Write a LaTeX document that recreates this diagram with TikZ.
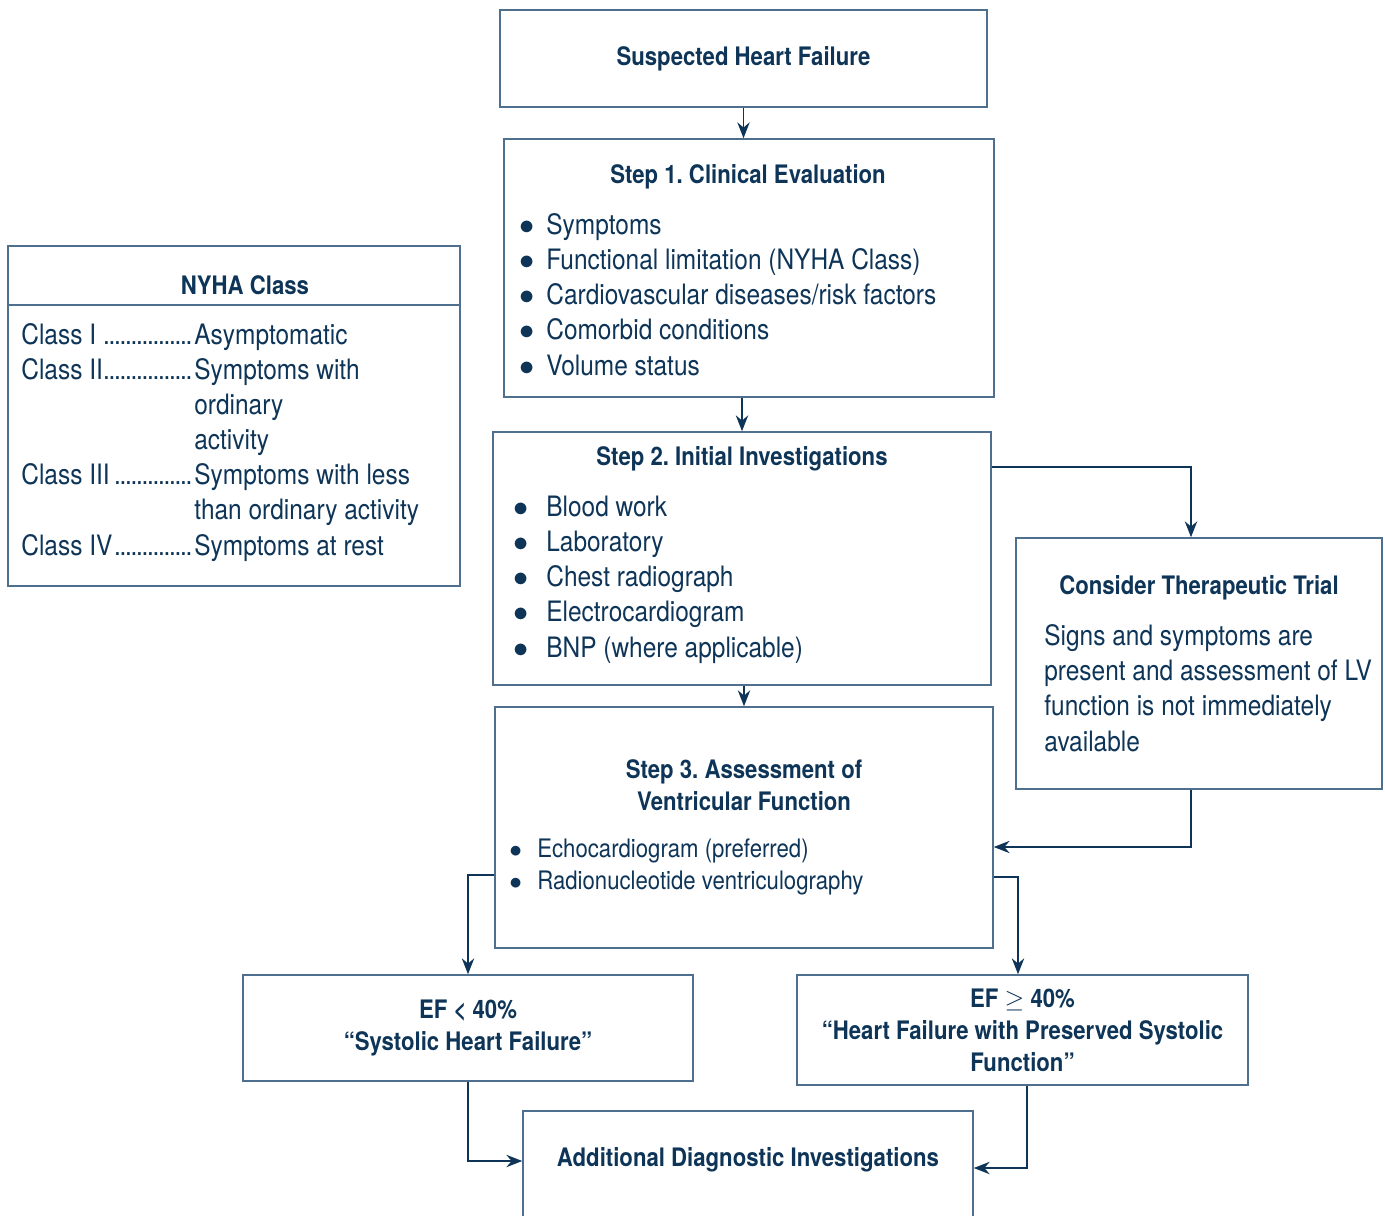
\documentclass[tikz,border=0pt]{standalone}
\usepackage{fontspec}
\setmainfont{TeX Gyre Heros}[FakeStretch=0.87]
\usetikzlibrary{arrows.meta}
\definecolor{navy}{HTML}{0E3558}
\definecolor{boxblue}{HTML}{4F6F8E}
\newcommand\dotsfill{\leaders\hbox to 0.11cm{\hss.\hss}\hfill}
\newcommand\bul[1]{\makebox[#1][l]{$\bullet$}}
\frenchspacing
\begin{document}
\begin{tikzpicture}[x=0.02cm,y=-0.02cm,
  box/.style={draw=boxblue,line width=0.9pt,inner sep=0pt},
  title/.style={font=\fontsize{14.5}{18.2}\selectfont\bfseries,text=navy,align=center,inner sep=0pt},
  body/.style={font=\fontsize{16}{20}\selectfont,text=navy,align=left,inner sep=0pt,anchor=base west},
  arr/.style={draw=navy,line width=1.1pt,-{Stealth[length=9pt,width=7pt]}}]
  \useasboundingbox (0,0) rectangle (1385,1216);

  % boxes
  \node[box,title,minimum width=9.74cm,minimum height=1.94cm] (suspect) at (743.5,58.5) {Suspected Heart Failure};
  \node[box,minimum width=9.8cm,minimum height=5.16cm] (step1) at (749,268) {};
  \node[box,minimum width=9.96cm,minimum height=5.06cm] (step2) at (742,558.5) {};
  \node[box,minimum width=9.96cm,minimum height=4.82cm] (step3) at (744,827.5) {};
  \node[box,minimum width=9.04cm,minimum height=6.8cm] (nyha) at (234,416) {};
  \node[box,minimum width=7.32cm,minimum height=5.02cm] (ther) at (1199,663.5) {};
  \node[box,title,minimum width=9cm,minimum height=2.12cm] (ef1) at (468,1028) {EF < 40\%\\``Systolic Heart Failure''};
  \node[box,title,minimum width=9.02cm,minimum height=2.2cm] (ef2) at (1022.5,1030) {EF $\geq$ 40\%\\``Heart Failure with Preserved Systolic\\Function''};
  \node[box,minimum width=9cm,minimum height=2.78cm] (addl) at (748,1180.5) {};

  % texts (base = last line)
  \node[title] (step1t) at (748,177) {Step 1. Clinical Evaluation};
  \node[body] (step1l) at (519,375) {\bul{0.54cm}Symptoms\\
    \bul{0.54cm}Functional limitation (NYHA Class)\\
    \bul{0.54cm}Cardiovascular diseases/risk factors\\
    \bul{0.54cm}Comorbid conditions\\
    \bul{0.54cm}Volume status};
  \node[title] (step2t) at (742,459) {Step 2. Initial Investigations};
  \node[body] (step2l) at (513,657) {\bul{0.66cm}Blood work\\
    \bul{0.66cm}Laboratory\\
    \bul{0.66cm}Chest radiograph\\
    \bul{0.66cm}Electrocardiogram\\
    \bul{0.66cm}BNP (where applicable)};
  \node[title] (step3t) at (744,785) {Step 3. Assessment of\\Ventricular Function};
  \node[body,font=\fontsize{14.5}{18.2}\selectfont] (step3l) at (509,889) {\bul{0.56cm}Echocardiogram (preferred)\\
    \bul{0.56cm}Radionucleotide ventriculography};
  \node[title] (thert) at (1199,588) {Consider Therapeutic Trial};
  \node[body] (therl) at (1044,751) {Signs and symptoms are\\
    present and assessment of LV\\
    function is not immediately\\
    available};
  \node[title] (nyhat) at (245,285) {NYHA Class};
  \draw[boxblue,line width=0.9pt] ([yshift=-1.2cm]nyha.north west) -- ([yshift=-1.2cm]nyha.north east);
  \node[body] (nyhal) at (21,555) {\makebox[3.46cm][l]{Class I \dotsfill}Asymptomatic\\
    \makebox[3.46cm][l]{Class II\dotsfill}Symptoms with\\
    \hspace*{3.46cm}ordinary\\
    \hspace*{3.46cm}activity\\
    \makebox[3.46cm][l]{Class III\dotsfill}Symptoms with less\\
    \hspace*{3.46cm}than ordinary activity\\
    \makebox[3.46cm][l]{Class IV\dotsfill}Symptoms at rest};
  \node[title] (addlt) at (748,1160) {Additional Diagnostic Investigations};

  % connectors
  \draw[arr] (suspect.south) -- (suspect.south |- step1.north);
  \draw[arr] (step1.south -| step2.north) -- (step2.north);
  \draw[arr] (step2.south -| step3.north) -- (step3.north);
  \draw[arr] ([yshift=-0.72cm]step2.north east) -| ([xshift=-0.16cm]ther.north);
  \draw[arr] ([xshift=-0.16cm]ther.south) |- ([yshift=-0.39cm]step3.east);
  \draw[arr] ([yshift=-0.95cm]step3.west) -| (ef1.north);
  \draw[arr] ([yshift=-0.99cm]step3.east) -| ([xshift=-0.09cm]ef2.north);
  \draw[arr] (ef1.south) |- ([yshift=0.39cm]addl.west);
  \draw[arr] ([xshift=0.09cm]ef2.south) |- ([yshift=0.25cm]addl.east);
\end{tikzpicture}
\end{document}
